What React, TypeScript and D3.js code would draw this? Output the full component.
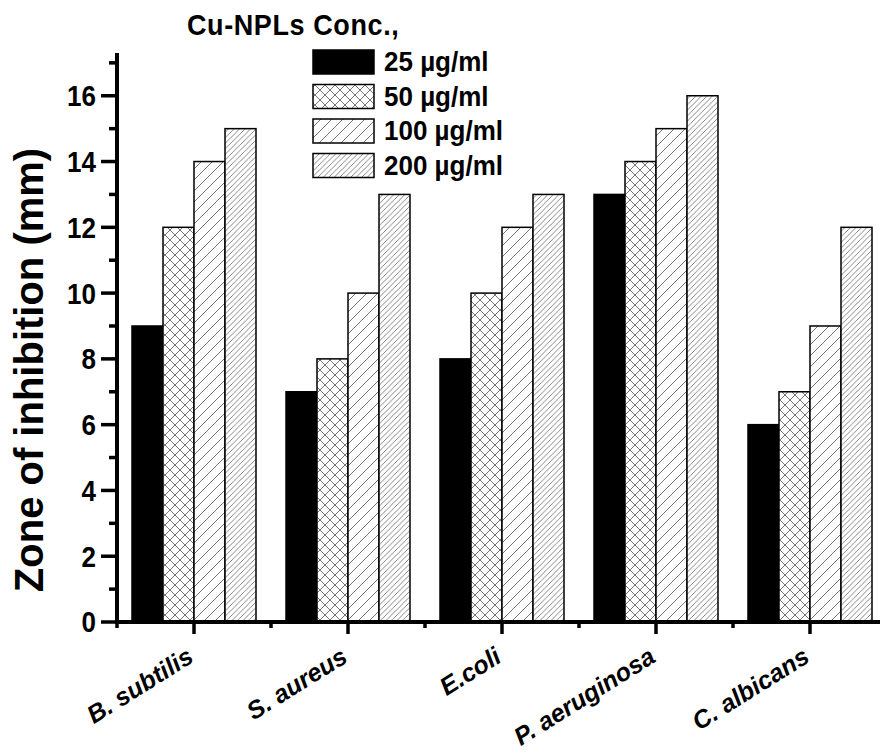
import React from 'react';
import * as d3 from 'd3';

const categories = ['B. subtilis', 'S. aureus', 'E.coli', 'P. aeruginosa', 'C. albicans'];
const seriesNames = ['25 µg/ml', '50 µg/ml', '100 µg/ml', '200 µg/ml'];
const conc25 = [9, 7, 8, 13, 6];
const conc50 = [12, 8, 10, 14, 7];
const conc100 = [14, 10, 12, 15, 9];
const conc200 = [15, 13, 13, 16, 12];
const yMajorTicks = [0, 2, 4, 6, 8, 10, 12, 14, 16];
const yMinorTicks = [1, 3, 5, 7, 9, 11, 13, 15, 17];
const legendTitle = 'Cu-NPLs Conc.,';
const yLabel = 'Zone of inhibition (mm)';

const series = [conc25, conc50, conc100, conc200];
const fills = ['#000', 'url(#cross)', 'url(#diag100)', 'url(#diag200)'];
const FONT = "'Liberation Sans', Arial, Helvetica, sans-serif";

export default function App() {
  const W = 880, H = 753;
  const x = d3.scaleBand<string>().domain(categories).range([117, 887]).paddingInner(0).paddingOuter(0);
  const bw = x.bandwidth();
  const xi = d3.scaleBand<string>().domain(seriesNames).range([15, bw - 15]).padding(0);
  const y = d3.scaleLinear().domain([0, 17.3]).range([622, 53]);
  const y0 = y(0);

  return (
    <svg width={W} height={H} style={{ position: 'absolute', left: 0, top: 0, background: '#fff' }} fontFamily={FONT}>
      <defs>
        <pattern id="cross" patternUnits="userSpaceOnUse" width={10} height={10}>
          <rect width={10} height={10} fill="#fff" />
          <path d="M-1,-1 L11,11 M-1,11 L11,-1" stroke="#666" strokeWidth={0.9} />
        </pattern>
        <pattern id="diag100" patternUnits="userSpaceOnUse" width={11} height={11}>
          <rect width={11} height={11} fill="#fff" />
          <path d="M-1,12 L12,-1 M-2,1 L1,-2 M10,13 L13,10" stroke="#666" strokeWidth={0.9} />
        </pattern>
        <pattern id="diag200" patternUnits="userSpaceOnUse" width={5.5} height={5.5}>
          <rect width={5.5} height={5.5} fill="#fff" />
          <path d="M-1,6.5 L6.5,-1 M-2,1 L1,-2 M4.5,7.5 L7.5,4.5" stroke="#666" strokeWidth={0.8} />
        </pattern>
      </defs>
      <rect width={W} height={H} fill="#fff" />

      {/* bars */}
      {categories.map((c, ci) => (
        <g key={c}>
          {seriesNames.map((s, si) => {
            const v = series[si][ci];
            const bx = (x(c) as number) + (xi(s) as number);
            return (
              <rect key={s} x={bx} y={y(v)} width={xi.bandwidth()} height={y0 - y(v)}
                fill={fills[si]} stroke="#000" strokeWidth={1.5} />
            );
          })}
        </g>
      ))}

      {/* y axis */}
      <line x1={117} x2={117} y1={y(17.3)} y2={y0 + 2} stroke="#000" strokeWidth={4} />
      {yMajorTicks.map(t => (
        <g key={'M' + t}>
          <line x1={101} x2={117} y1={y(t)} y2={y(t)} stroke="#000" strokeWidth={3.5} />
          <text transform={`translate(96,${y(t)}) scale(1,1.12)`} dy="0.36em" textAnchor="end" fontSize={26} fontWeight="bold">{t}</text>
        </g>
      ))}
      {yMinorTicks.map(t => (
        <line key={'m' + t} x1={109} x2={117} y1={y(t)} y2={y(t)} stroke="#000" strokeWidth={3.5} />
      ))}

      {/* x axis */}
      <line x1={115} x2={W} y1={y0} y2={y0} stroke="#000" strokeWidth={4} />
      {categories.map(c => (
        <line key={'xt' + c} x1={(x(c) as number) + bw / 2} x2={(x(c) as number) + bw / 2} y1={y0} y2={y0 + 12}
          stroke="#000" strokeWidth={3.5} />
      ))}
      {categories.map(c => (
        <line key={'xm' + c} x1={x(c) as number} x2={x(c) as number} y1={y0} y2={y0 + 6}
          stroke="#000" strokeWidth={3.5} />
      ))}
      {categories.map(c => (
        <text key={'xl' + c} transform={`translate(${(x(c) as number) + bw / 2 + 1},661) rotate(-32)`}
          textAnchor="end" fontSize={25} fontWeight="bold" fontStyle="italic">{c}</text>
      ))}

      {/* y label */}
      <text transform="translate(43,370) rotate(-90)" textAnchor="middle" fontSize={40} fontWeight="bold">{yLabel}</text>

      {/* legend */}
      <text transform="translate(187,35) scale(1,1.08)" fontSize={27} fontWeight="bold" letterSpacing={0.6}>{legendTitle}</text>
      {seriesNames.map((s, i) => {
        const top = 50 + i * 34.5;
        return (
          <g key={'lg' + s}>
            <rect x={313} y={top} width={61} height={24} fill={fills[i]} stroke="#000" strokeWidth={1.5} />
            <text transform={`translate(384,${top + 21}) scale(1,1.08)`} fontSize={26} fontWeight="bold">{s}</text>
          </g>
        );
      })}
    </svg>
  );
}
